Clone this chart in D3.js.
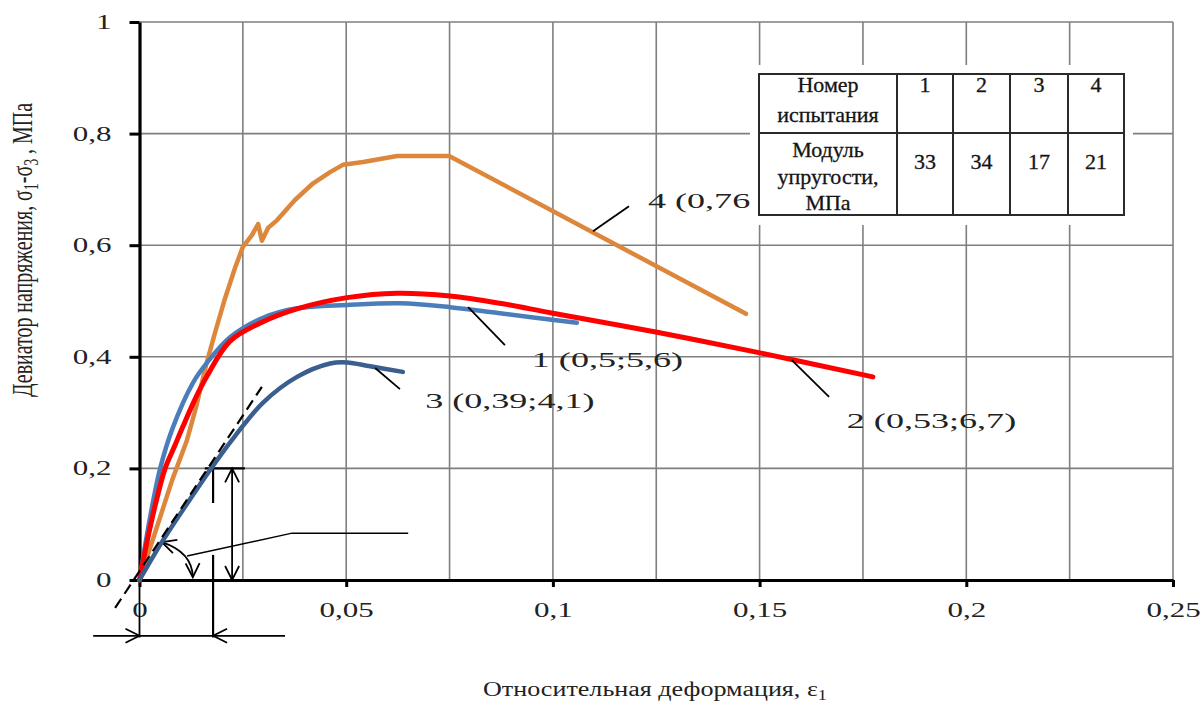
<!DOCTYPE html>
<html>
<head>
<meta charset="utf-8">
<script src="https://cdn.jsdelivr.net/npm/d3@7"></script>
<style>
  body { margin: 0; background: #fff; }
  text { font-family: "Liberation Serif", "Times New Roman", serif; }
</style>
</head>
<body>
<div id="chart"></div>
<script>
// strain (x) and deviator stress (y)
var test4X = [0, 0.004, 0.0079, 0.0115, 0.0137, 0.0161, 0.0183, 0.0207, 0.0231, 0.025, 0.0272, 0.0287, 0.0296, 0.0311, 0.0333, 0.0376, 0.042, 0.0461, 0.0492, 0.0541, 0.0623, 0.0749, 0.1467];
var test4Y = [0, 0.09, 0.179, 0.251, 0.31, 0.385, 0.444, 0.505, 0.559, 0.597, 0.618, 0.638, 0.608, 0.631, 0.645, 0.681, 0.711, 0.731, 0.744, 0.749, 0.76, 0.76, 0.477];

var test1X = [0, 0.0025, 0.005, 0.0079, 0.0129, 0.0163, 0.0219, 0.0299, 0.0381, 0.0502, 0.063, 0.0751, 0.0872, 0.1058];
var test1Y = [0, 0.11, 0.2, 0.27, 0.353, 0.389, 0.435, 0.47, 0.487, 0.493, 0.496, 0.489, 0.478, 0.461];

var test2X = [0, 0.002, 0.004, 0.0062, 0.0085, 0.0105, 0.0135, 0.0163, 0.0219, 0.0299, 0.0381, 0.0502, 0.0623, 0.0751, 0.0872, 0.1, 0.1252, 0.1501, 0.1774];
var test2Y = [0, 0.075, 0.14, 0.2, 0.24, 0.275, 0.325, 0.365, 0.428, 0.463, 0.486, 0.506, 0.514, 0.509, 0.496, 0.478, 0.444, 0.407, 0.364];

var test3X = [0, 0.005, 0.01, 0.0178, 0.0231, 0.0299, 0.0381, 0.0461, 0.0502, 0.0558, 0.0637];
var test3Y = [0, 0.063, 0.12, 0.205, 0.258, 0.318, 0.364, 0.388, 0.39, 0.383, 0.373];

var tangentX = [-0.0059, 0.0296];
var tangentY = [-0.05, 0.346];

var xTicks = [0, 0.05, 0.1, 0.15, 0.2, 0.25];
var yTicks = [0, 0.2, 0.4, 0.6, 0.8, 1];
var xGrid = [0.025, 0.05, 0.075, 0.1, 0.125, 0.15, 0.175, 0.2, 0.225, 0.25];
var yGrid = [0.2, 0.4, 0.6, 0.8, 1];

var curveNames = ["4 (0,76", "1 (0,5;5,6)", "3 (0,39;4,1)", "2 (0,53;6,7)"];
var labelAt = [[0.123, 0.667], [0.0949, 0.382], [0.0691, 0.308], [0.1711, 0.272]];
var leaderFrom = [[0.1097, 0.625], [0.0795, 0.489], [0.057, 0.38], [0.1578, 0.394]];
var leaderTo = [[0.1184, 0.67], [0.0884, 0.421], [0.063, 0.342], [0.1668, 0.328]];

var tableHead = ["Номер|испытания", "1", "2", "3", "4"];
var tableRow = ["Модуль|упругости,|МПа", "33", "34", "17", "21"];

var W = 1203, H = 706;
var svg = d3.select("#chart").append("svg").attr("width", W).attr("height", H);
svg.append("rect").attr("width", W).attr("height", H).attr("fill", "#fff");

var x = d3.scaleLinear().domain([0, 0.25]).range([139.5, 1173]);
var y = d3.scaleLinear().domain([0, 1]).range([580, 22]);

function widen(sel, k) {
  sel.each(function () {
    var w = this.getComputedTextLength();
    this.setAttribute("textLength", w * k);
    this.setAttribute("lengthAdjust", "spacingAndGlyphs");
  });
}
var comma = function (d) { return String(+d.toFixed(3)).replace(".", ","); };

// grid
svg.append("g").selectAll("line").data(xGrid).enter().append("line")
  .attr("x1", function (d) { return x(d); }).attr("x2", function (d) { return x(d); })
  .attr("y1", y(1)).attr("y2", y(0))
  .attr("stroke", "#7f7f7f").attr("stroke-width", 1.6);
svg.append("g").selectAll("line").data(yGrid).enter().append("line")
  .attr("x1", x(0)).attr("x2", x(0.25))
  .attr("y1", function (d) { return y(d); }).attr("y2", function (d) { return y(d); })
  .attr("stroke", "#7f7f7f").attr("stroke-width", 1.6);

// axes
var gx = svg.append("g").attr("transform", "translate(0," + y(0) + ")")
  .call(d3.axisBottom(x).tickValues(xTicks).tickFormat(comma).tickSize(7).tickSizeOuter(0).tickPadding(16));
var gy = svg.append("g").attr("transform", "translate(" + x(0) + ",0)")
  .call(d3.axisLeft(y).tickValues(yTicks).tickFormat(comma).tickSize(10).tickSizeOuter(0).tickPadding(18));
[gx, gy].forEach(function (g) {
  g.attr("font-family", "Liberation Serif");
  g.select(".domain").attr("stroke", "#000").attr("stroke-width", 3.2);
  g.selectAll(".tick line").attr("stroke", "#000").attr("stroke-width", 3);
  g.selectAll(".tick text").attr("font-size", 20).attr("fill", "#222");
});
widen(gx.selectAll(".tick text"), 1.55);
widen(gy.selectAll(".tick text"), 1.55);

// arrow marker
var defs = svg.append("defs");
defs.append("marker").attr("id", "arr")
  .attr("viewBox", "-16 -8 18 16").attr("refX", 0).attr("refY", 0)
  .attr("markerWidth", 18).attr("markerHeight", 16)
  .attr("markerUnits", "userSpaceOnUse").attr("orient", "auto-start-reverse")
  .append("path").attr("d", "M-14,-7L0,0L-14,7")
  .attr("fill", "none").attr("stroke", "#000").attr("stroke-width", 1.8);

var ann = svg.append("g").attr("stroke", "#000").attr("fill", "none").attr("stroke-width", 1.8);
function seg(x1, y1, x2, y2) {
  return ann.append("line").attr("x1", x(x1)).attr("y1", y(y1)).attr("x2", x(x2)).attr("y2", y(y2));
}
// dimension lines
seg(0.0158, 0.2, 0.0255, 0.2).attr("stroke-width", 2.2);
seg(0.0178, 0.2, 0.0178, 0.138).attr("stroke-width", 2.2);
seg(0.0178, 0.045, 0.0178, -0.103).attr("stroke-width", 2.2);
seg(0, 0, 0, -0.103);
seg(0.0224, 0.2, 0.0224, 0).attr("marker-start", "url(#arr)").attr("marker-end", "url(#arr)");
seg(-0.0112, -0.1, 0, -0.1).attr("marker-end", "url(#arr)");
seg(0, -0.1, 0.0178, -0.1);
seg(0.0352, -0.1, 0.0178, -0.1).attr("marker-end", "url(#arr)");
// angle arc and its leader
ann.append("path")
  .attr("d", "M" + x(0.0054) + "," + y(0.068) + "Q" + x(0.0128) + "," + y(0.05) + " " + x(0.0129) + "," + y(0.005))
  .attr("marker-start", "url(#arr)").attr("marker-end", "url(#arr)");
ann.append("path").attr("stroke-width", 1.5)
  .attr("d", d3.line()([[x(0.0115), y(0.043)], [x(0.0369), y(0.084)], [x(0.065), y(0.084)]]));

// curves
var line = d3.line().x(function (d) { return x(d[0]); }).y(function (d) { return y(d[1]); });
function draw(xs, ys, color, w, curve) {
  svg.append("path").datum(d3.zip(xs, ys))
    .attr("d", line.curve(curve))
    .attr("fill", "none").attr("stroke", color).attr("stroke-width", w)
    .attr("stroke-linecap", "round").attr("stroke-linejoin", "round");
}
draw(test4X, test4Y, "#DC873C", 4.5, d3.curveLinear);
draw(test1X, test1Y, "#4A7EBB", 4.5, d3.curveCatmullRom.alpha(0.5));
draw(test2X, test2Y, "#FF0000", 5, d3.curveCatmullRom.alpha(0.5));
draw(test3X, test3Y, "#3A5F8F", 4.5, d3.curveCatmullRom.alpha(0.5));

// tangent (dashed)
svg.append("line")
  .attr("x1", x(tangentX[0])).attr("y1", y(tangentY[0]))
  .attr("x2", x(tangentX[1])).attr("y2", y(tangentY[1]))
  .attr("stroke", "#000").attr("stroke-width", 2.2).attr("stroke-dasharray", "11,6");

// curve labels
var lab = svg.append("g");
curveNames.forEach(function (name, i) {
  lab.append("line")
    .attr("x1", x(leaderFrom[i][0])).attr("y1", y(leaderFrom[i][1]))
    .attr("x2", x(leaderTo[i][0])).attr("y2", y(leaderTo[i][1]))
    .attr("stroke", "#000").attr("stroke-width", 1.8);
  var t = lab.append("text").attr("x", x(labelAt[i][0])).attr("y", y(labelAt[i][1]))
    .attr("font-size", 22).attr("fill", "#222").text(name);
  widen(t, 1.64);
});

// table inset
var tx = [759, 897, 953, 1010, 1068, 1124], ty = [74, 133, 215];
var tb = svg.append("g").attr("font-family", "Liberation Serif");
tb.append("rect").attr("x", 750).attr("y", 65).attr("width", 383).attr("height", 160).attr("fill", "#fff");
tb.append("rect").attr("x", tx[0]).attr("y", ty[0]).attr("width", tx[5] - tx[0]).attr("height", ty[2] - ty[0])
  .attr("fill", "#fff").attr("stroke", "#2a2a2a").attr("stroke-width", 2);
tb.append("line").attr("x1", tx[0]).attr("x2", tx[5]).attr("y1", ty[1]).attr("y2", ty[1])
  .attr("stroke", "#2a2a2a").attr("stroke-width", 2);
tx.slice(1, 5).forEach(function (c) {
  tb.append("line").attr("x1", c).attr("x2", c).attr("y1", ty[0]).attr("y2", ty[2])
    .attr("stroke", "#2a2a2a").attr("stroke-width", 2);
});
function cell(txt, col, base, step) {
  txt.split("|").forEach(function (s, j) {
    tb.append("text").attr("x", (tx[col] + tx[col + 1]) / 2).attr("y", base + j * step)
      .attr("text-anchor", "middle").attr("font-size", 22).attr("fill", "#141414")
      .attr("stroke", "#141414").attr("stroke-width", 0.3).text(s);
  });
}
tableHead.forEach(function (s, i) { cell(s, i, 92, 30); });
tableRow.forEach(function (s, i) {
  if (i === 0) cell(s, 0, 157, 26.5);
  else cell(s, i, 169, 0);
});

// axis titles
var xt = svg.append("text").attr("x", 655).attr("y", 696).attr("text-anchor", "middle")
  .attr("font-size", 20).attr("fill", "#222");
xt.append("tspan").text("Относительная деформация, ε");
xt.append("tspan").attr("font-size", 14).attr("dy", 4).text("1");
xt.attr("textLength", 344).attr("lengthAdjust", "spacingAndGlyphs");

var yt = svg.append("text").attr("text-anchor", "middle").attr("font-size", 20).attr("fill", "#222")
  .attr("transform", "translate(32,250) scale(1.45,1) rotate(-90)");
yt.append("tspan").text("Девиатор напряжения, σ");
yt.append("tspan").attr("font-size", 14).attr("dy", 4).text("1");
yt.append("tspan").attr("dy", -4).text("-σ");
yt.append("tspan").attr("font-size", 14).attr("dy", 4).text("3");
yt.append("tspan").attr("dy", -4).text(" , МПа");
yt.attr("textLength", 294).attr("lengthAdjust", "spacingAndGlyphs");
</script>
</body>
</html>
